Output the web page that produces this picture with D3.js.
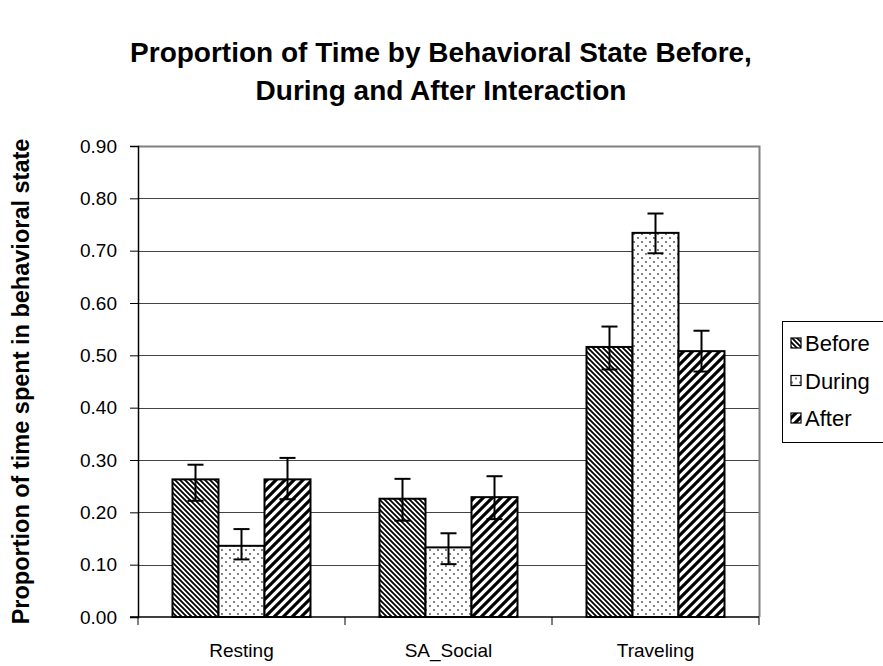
<!DOCTYPE html>
<html>
<head>
<meta charset="utf-8">
<script src="https://cdn.jsdelivr.net/npm/d3@7"></script>
<style>
    body { margin: 0; background: #fff; }
    svg { font-family: "Liberation Sans", Arial, sans-serif; }
</style>
</head>
<body>
<div id="chart-area"></div>
<script>
// data
const categories = ["Resting", "SA_Social", "Traveling"];
const seriesNames = ["Before", "During", "After"];
const before = [0.263, 0.226, 0.516];
const during = [0.136, 0.133, 0.734];
const after = [0.263, 0.229, 0.508];
const beforeHi = [0.291, 0.264, 0.555];
const beforeLo = [0.222, 0.184, 0.473];
const duringHi = [0.168, 0.160, 0.771];
const duringLo = [0.110, 0.101, 0.695];
const afterHi = [0.304, 0.269, 0.547];
const afterLo = [0.225, 0.187, 0.469];
const yTicks = [0, 0.1, 0.2, 0.3, 0.4, 0.5, 0.6, 0.7, 0.8, 0.9];

function drawChart() {
    const W = 883, H = 666;
    const plot = { left: 138, right: 759, top: 146, bottom: 617 };

    const svg = d3.select("#chart-area")
        .append("svg")
        .attr("width", W)
        .attr("height", H);

    // fill patterns
    const defs = svg.append("defs");
    const pBefore = defs.append("pattern")
        .attr("id", "p-before")
        .attr("patternUnits", "userSpaceOnUse")
        .attr("width", 5).attr("height", 5);
    pBefore.append("rect").attr("width", 5).attr("height", 5).attr("fill", "#fff");
    pBefore.append("path")
        .attr("d", "M0,0 L5,5 M-1,4 L1,6 M4,-1 L6,1")
        .attr("stroke", "#000").attr("stroke-width", 1.8);

    const pDuring = defs.append("pattern")
        .attr("id", "p-during")
        .attr("patternUnits", "userSpaceOnUse")
        .attr("width", 8).attr("height", 8);
    pDuring.append("rect").attr("width", 8).attr("height", 8).attr("fill", "#fff");
    pDuring.append("circle").attr("cx", 2).attr("cy", 2).attr("r", 0.9).attr("fill", "#444");
    pDuring.append("circle").attr("cx", 6).attr("cy", 6).attr("r", 0.9).attr("fill", "#444");

    const pAfter = defs.append("pattern")
        .attr("id", "p-after")
        .attr("patternUnits", "userSpaceOnUse")
        .attr("width", 9).attr("height", 9);
    pAfter.append("rect").attr("width", 9).attr("height", 9).attr("fill", "#fff");
    pAfter.append("path")
        .attr("d", "M0,9 L9,0 M-2,2 L2,-2 M7,11 L11,7")
        .attr("stroke", "#000").attr("stroke-width", 3.2);

    const fills = { Before: "url(#p-before)", During: "url(#p-during)", After: "url(#p-after)" };

    // scales
    const y = d3.scaleLinear().domain([0, 0.9]).range([plot.bottom, plot.top]);
    const x0 = d3.scaleBand()
        .domain(categories)
        .range([plot.left, plot.right])
        .paddingInner(1 / 3)
        .paddingOuter(1 / 6);
    const x1 = d3.scaleBand()
        .domain(seriesNames)
        .range([0, x0.bandwidth()]);

    const rows = [];
    categories.forEach((c, i) => {
        rows.push({ cat: c, s: "Before", v: before[i], hi: beforeHi[i], lo: beforeLo[i] });
        rows.push({ cat: c, s: "During", v: during[i], hi: duringHi[i], lo: duringLo[i] });
        rows.push({ cat: c, s: "After", v: after[i], hi: afterHi[i], lo: afterLo[i] });
    });

    // gridlines
    svg.append("g")
        .selectAll("line")
        .data(yTicks.filter(t => t > 0 && t < 0.9))
        .join("line")
        .attr("x1", plot.left).attr("x2", plot.right)
        .attr("y1", d => Math.round(y(d)) + 0.5)
        .attr("y2", d => Math.round(y(d)) + 0.5)
        .attr("stroke", "#444")
        .attr("stroke-width", 1);

    // plot border (top & right grey)
    svg.append("path")
        .attr("d", `M${plot.left},${plot.top + 0.5} H${plot.right + 0.5} V${plot.bottom}`)
        .attr("fill", "none")
        .attr("stroke", "#808080")
        .attr("stroke-width", 2);

    // bars
    svg.append("g")
        .selectAll("rect")
        .data(rows)
        .join("rect")
        .attr("x", d => x0(d.cat) + x1(d.s))
        .attr("y", d => y(d.v))
        .attr("width", x1.bandwidth())
        .attr("height", d => y(0) - y(d.v))
        .attr("fill", d => fills[d.s])
        .attr("stroke", "#000")
        .attr("stroke-width", 2);

    // error bars
    const eb = svg.append("g").attr("stroke", "#000").attr("stroke-width", 2);
    rows.forEach(d => {
        const cx = x0(d.cat) + x1(d.s) + x1.bandwidth() / 2;
        eb.append("line").attr("x1", cx).attr("x2", cx).attr("y1", y(d.hi)).attr("y2", y(d.lo));
        eb.append("line").attr("x1", cx - 8).attr("x2", cx + 8).attr("y1", y(d.hi)).attr("y2", y(d.hi));
        eb.append("line").attr("x1", cx - 8).attr("x2", cx + 8).attr("y1", y(d.lo)).attr("y2", y(d.lo));
    });

    // Y axis
    const yAxis = svg.append("g")
        .attr("transform", `translate(${plot.left},0)`)
        .call(d3.axisLeft(y).tickValues(yTicks).tickFormat(d3.format(".2f")).tickSizeOuter(0).tickSize(8).tickPadding(13));
    yAxis.select(".domain").attr("stroke", "#000").attr("stroke-width", 1.5);
    yAxis.selectAll(".tick line").attr("stroke", "#000");
    yAxis.selectAll(".tick text")
        .attr("fill", "#000")
        .style("font-size", "19px");

    // X axis: ticks at category boundaries
    const xAxis = svg.append("g")
        .attr("transform", `translate(0,${plot.bottom})`);
    xAxis.append("line")
        .attr("x1", plot.left - 8).attr("x2", plot.right)
        .attr("stroke", "#000").attr("stroke-width", 1.5);
    const bounds = [plot.left].concat(categories.map(c => x0(c) + x0.bandwidth() + x0.step() * (1 / 6)));
    xAxis.selectAll(".xtick")
        .data(bounds)
        .join("line")
        .attr("class", "xtick")
        .attr("x1", d => d).attr("x2", d => d)
        .attr("y1", 0).attr("y2", 8)
        .attr("stroke", "#000");
    xAxis.selectAll(".xlabel")
        .data(categories)
        .join("text")
        .attr("class", "xlabel")
        .attr("x", d => x0(d) + x0.bandwidth() / 2)
        .attr("y", 40)
        .attr("text-anchor", "middle")
        .style("font-size", "19px")
        .text(d => d);

    // Y axis title
    svg.append("text")
        .attr("transform", `translate(29,${(plot.top + plot.bottom) / 2}) rotate(-90)`)
        .attr("text-anchor", "middle")
        .style("font-size", "23.5px")
        .style("font-weight", "bold")
        .text("Proportion of time spent in behavioral state");

    // title
    const title = svg.append("text")
        .attr("x", 441)
        .attr("text-anchor", "middle")
        .style("font-size", "28px")
        .style("font-weight", "bold");
    title.append("tspan").attr("x", 441).attr("y", 62).text("Proportion of Time by Behavioral State Before,");
    title.append("tspan").attr("x", 441).attr("y", 100).text("During and After Interaction");

    // legend
    const legend = svg.append("g").attr("transform", "translate(782,321)");
    legend.append("rect")
        .attr("x", 0.5).attr("y", 0.5)
        .attr("width", 110).attr("height", 121)
        .attr("fill", "#fff")
        .attr("stroke", "#000");
    seriesNames.forEach((s, i) => {
        const row = legend.append("g").attr("transform", `translate(0,${22 + i * 37.5})`);
        row.append("rect")
            .attr("x", 9).attr("y", -5)
            .attr("width", 10).attr("height", 10)
            .attr("fill", fills[s])
            .attr("stroke", "#000")
            .attr("stroke-width", 1.2);
        row.append("text")
            .attr("x", 23)
            .attr("y", 8)
            .style("font-size", "22px")
            .text(s);
    });
}

drawChart();
</script>
</body>
</html>
